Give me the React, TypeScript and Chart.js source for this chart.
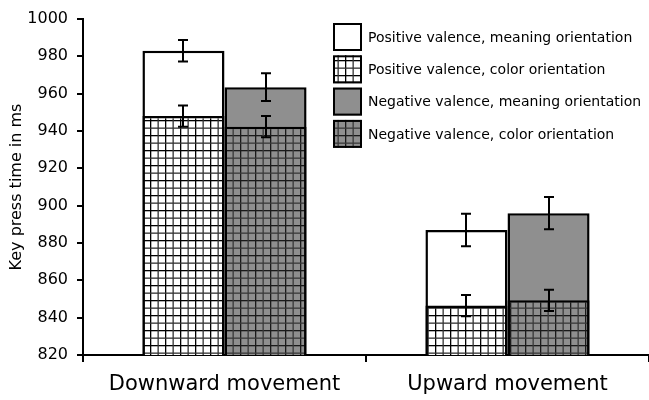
import { useEffect, useRef } from "react";
import { Chart, registerables } from "chart.js";

Chart.register(...registerables);

const categories = ["Downward movement", "Upward movement"];
const seriesLabels = [
  "Positive valence, meaning orientation",
  "Positive valence, color orientation",
  "Negative valence, meaning orientation",
  "Negative valence, color orientation",
];
const posMeaning = [983, 887];
const posMeaningErr = [5.8, 8.7];
const posColor = [948, 846.5];
const posColorErr = [5.7, 5.7];
const negMeaning = [963.5, 896];
const negMeaningErr = [7.4, 8.7];
const negColor = [942.3, 849.3];
const negColorErr = [5.7, 5.7];
const yTickValues = [820, 840, 860, 880, 900, 920, 940, 960, 980, 1000];

const FONT = "'DejaVu Sans', Verdana, sans-serif";
const GRAY = "#8f8f8f";

function makeHatch(bg: string, line1: string, line2: string): CanvasPattern | string {
  const c = document.createElement("canvas");
  c.width = 15;
  c.height = 15;
  const g = c.getContext("2d");
  if (!g) return bg;
  g.fillStyle = bg;
  g.fillRect(0, 0, 15, 15);
  g.fillStyle = line1;
  g.fillRect(0, 0, 1.3, 15);
  g.fillRect(0, 0, 15, 1.3);
  g.fillStyle = line2;
  g.fillRect(7.5, 0, 1.3, 15);
  g.fillRect(0, 7.5, 15, 1.3);
  const p = g.createPattern(c, "repeat");
  return p || bg;
}

export default function App() {
  const ref = useRef<HTMLCanvasElement | null>(null);

  useEffect(() => {
    document.body.style.margin = "0";
    const canvas = ref.current;
    if (!canvas) return;

    const whiteHatch = makeHatch("#ffffff", "#000000", "#333333");
    const grayHatch = makeHatch(GRAY, "#1a1a1a", "#3a3a3a");

    const errors = [posMeaningErr, posColorErr, negMeaningErr, negColorErr];

    const errorBarPlugin = {
      id: "errorBars",
      afterDatasetsDraw(chart: any) {
        const ctx = chart.ctx;
        const yScale = chart.scales.y;
        ctx.save();
        ctx.strokeStyle = "#000";
        ctx.lineWidth = 2;
        chart.data.datasets.forEach((ds: any, i: number) => {
          const meta = chart.getDatasetMeta(i);
          const errs = errors[i];
          meta.data.forEach((el: any, j: number) => {
            const v = ds.data[j];
            const e = errs[j];
            const yT = yScale.getPixelForValue(v + e);
            const yB = yScale.getPixelForValue(v - e);
            const x = Math.round(el.x);
            ctx.beginPath();
            ctx.moveTo(x, yT);
            ctx.lineTo(x, yB);
            ctx.moveTo(x - 5, yT);
            ctx.lineTo(x + 5, yT);
            ctx.moveTo(x - 5, yB);
            ctx.lineTo(x + 5, yB);
            ctx.stroke();
          });
        });
        ctx.restore();
      },
    };

    const legendPlugin = {
      id: "innerLegend",
      afterDraw(chart: any) {
        const ctx = chart.ctx;
        const x0 = 333;
        const y0 = 23;
        const bw = 29;
        const bh = 28;
        const gap = 32.3;
        ctx.save();
        ctx.font = `14px ${FONT}`;
        ctx.textBaseline = "middle";
        ctx.textAlign = "left";
        chart.data.datasets.forEach((ds: any, i: number) => {
          const y = y0 + i * gap;
          ctx.fillStyle = ds.backgroundColor;
          ctx.fillRect(x0, y, bw, bh);
          ctx.strokeStyle = "#000";
          ctx.lineWidth = 2;
          ctx.strokeRect(x0 + 1, y + 1, bw - 2, bh - 2);
          ctx.fillStyle = "#000";
          ctx.fillText(ds.label, x0 + 35, y + bh / 2 + 1);
        });
        ctx.restore();
      },
    };

    const chart = new Chart(canvas, {
      type: "bar",
      data: {
        labels: categories,
        datasets: [
          {
            label: seriesLabels[0],
            data: posMeaning,
            stack: "pos",
            order: 1,
            backgroundColor: "#ffffff",
            borderColor: "#000",
            borderWidth: 2.5,
            borderSkipped: false,
          },
          {
            label: seriesLabels[1],
            data: posColor,
            stack: "pos",
            order: 0,
            backgroundColor: whiteHatch as any,
            borderColor: "#000",
            borderWidth: 2.5,
            borderSkipped: false,
          },
          {
            label: seriesLabels[2],
            data: negMeaning,
            stack: "neg",
            order: 1,
            backgroundColor: GRAY,
            borderColor: "#000",
            borderWidth: 2.5,
            borderSkipped: false,
          },
          {
            label: seriesLabels[3],
            data: negColor,
            stack: "neg",
            order: 0,
            backgroundColor: grayHatch as any,
            borderColor: "#000",
            borderWidth: 2.5,
            borderSkipped: false,
          },
        ] as any,
      },
      options: {
        responsive: false,
        animation: false,
        layout: { padding: { top: 19, right: 0, bottom: 0, left: 0 } },
        datasets: {
          bar: { categoryPercentage: 0.58, barPercentage: 1 },
        } as any,
        plugins: {
          legend: { display: false },
          tooltip: { enabled: false },
        },
        scales: {
          x: {
            stacked: true,
            grid: {
              display: true,
              drawOnChartArea: false,
              drawTicks: true,
              tickLength: 7,
              color: "#000",
              lineWidth: 2,
            },
            border: { display: true, color: "#000", width: 2 },
            ticks: {
              color: "#000",
              font: { family: FONT, size: 21 },
              padding: 10,
            },
            afterFit: (scale: any) => {
              scale.height = 45;
            },
          },
          y: {
            stacked: false,
            min: yTickValues[0],
            max: yTickValues[yTickValues.length - 1],
            afterBuildTicks: (scale: any) => {
              scale.ticks = yTickValues.map((v) => ({ value: v }));
            },
            grid: {
              display: true,
              drawOnChartArea: false,
              drawTicks: true,
              tickLength: 6,
              color: "#000",
              lineWidth: 2,
            },
            border: { display: true, color: "#000", width: 2 },
            ticks: {
              color: "#000",
              font: { family: FONT, size: 16 },
              padding: 9,
              callback: (v: any) => String(v),
            },
            title: {
              display: true,
              text: "Key press time in ms",
              color: "#000",
              font: { family: FONT, size: 16 },
              padding: { top: 7, bottom: 0 },
            },
            afterFit: (scale: any) => {
              scale.width = 83;
            },
          },
        },
      },
      plugins: [errorBarPlugin, legendPlugin],
    });

    return () => chart.destroy();
  }, []);

  return (
    <div style={{ width: 649, height: 400 }}>
      <canvas ref={ref} width={649} height={400} />
    </div>
  );
}
